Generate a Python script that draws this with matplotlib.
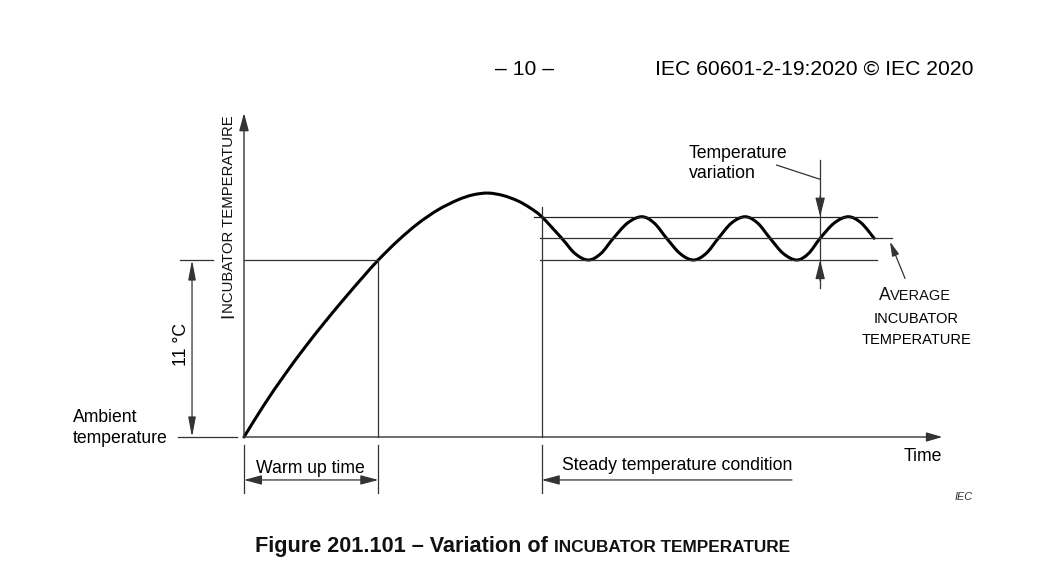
import numpy as np
import matplotlib
matplotlib.use("Agg")
import matplotlib.pyplot as plt
from matplotlib.path import Path
from matplotlib.patches import PathPatch

plt.rcParams["font.family"] = ["Liberation Sans", "DejaVu Sans"]

# schematic data: time in arbitrary minutes, temperature in degC above ambient
curve_time = [0.0, 1.49, 2.98, 4.47, 5.96, 7.45, 8.94, 10.0, 11.47, 12.96,
              14.45, 15.93, 17.05, 18.17, 19.29, 20.4, 21.3, 22.17, 23.66,
              24.65, 25.64, 26.57, 27.5, 28.56, 29.62, 30.54, 31.47, 32.47,
              33.46, 34.4, 35.32, 36.3, 37.31, 38.24, 39.17, 40.16, 41.16,
              42.03, 42.9, 43.95, 45.0, 45.96, 46.92]
curve_temp = [0.0, 1.99, 3.81, 5.5, 7.08, 8.58, 10.02, 11.0, 12.21, 13.27,
              14.12, 14.74, 15.05, 15.16, 15.01, 14.67, 14.24, 13.69, 12.35,
              11.4, 11.0, 11.4, 12.35, 13.3, 13.69, 13.3, 12.35, 11.4,
              11.0, 11.4, 12.35, 13.3, 13.69, 13.3, 12.35, 11.4, 11.0,
              11.4, 12.35, 13.3, 13.69, 13.3, 12.35]

warmup_end = 10.0
steady_start = 22.17
rise = 11.0
band_upper = 13.69
band_mean = 12.35
band_lower = 11.0
variation_time = 42.9
time_axis_end = 52.0
temp_axis_end = 20.14

# page geometry (pixels) used to lay out the drawing
W, H, DPI = 1059, 562, 100
X0, Y0 = 244, 437          # origin of the diagram
SX, SY = 13.43, 16.09      # pixels per minute / per degC
LINE = "#333333"
TXT = 12.7


def P(x, y):
    """pixel position on the page -> data coordinates"""
    return (x - X0) / SX, (Y0 - y) / SY


def catmull_rom(xs, ys):
    p = np.column_stack([xs, ys]).astype(float)
    ext = np.vstack([p[0], p, p[-1]])
    verts = [p[0]]
    codes = [Path.MOVETO]
    for i in range(len(p) - 1):
        a, b, c, d = ext[i], ext[i + 1], ext[i + 2], ext[i + 3]
        verts += [b + (c - a) / 6, c - (d - b) / 6, c]
        codes += [Path.CURVE4] * 3
    return Path(verts, codes)


def arrow(start, end, style, hl, hw, lw=0.9, color=LINE):
    ax.annotate("", xy=end, xytext=start,
                arrowprops=dict(arrowstyle=f"{style},head_length={hl},head_width={hw}",
                                mutation_scale=1, lw=lw, color=color,
                                shrinkA=0, shrinkB=0))


def mixed_text(x, y, parts, rotation=0, align="left", weight="normal"):
    # small-caps style text: pieces of different sizes on one baseline
    renderer = fig.canvas.get_renderer()
    widths = []
    for s, size in parts:
        if s == " ":
            widths.append(0.278 * size * DPI / 72)
            continue
        t = ax.text(0, 0, s, fontsize=size, fontweight=weight)
        widths.append(t.get_window_extent(renderer).width)
        t.remove()
    off = -sum(widths) / 2 if align == "center" else 0.0
    for (s, size), w in zip(parts, widths):
        if s.strip():
            pos = P(x, y - off) if rotation == 90 else P(x + off, y)
            ax.text(*pos, s, fontsize=size, fontweight=weight, rotation=rotation,
                    rotation_mode="anchor", ha="left", va="baseline", color="#111111")
        off += w


fig = plt.figure(figsize=(W / DPI, H / DPI), dpi=DPI)
ax = fig.add_axes([0, 0, 1, 1])
ax.set_xlim(-X0 / SX, (W - X0) / SX)
ax.set_ylim(-(H - Y0) / SY, Y0 / SY)
ax.axis("off")

# axes
arrow((0, 0), (0, temp_axis_end), "-|>", 10.8, 2.9, lw=1.0)
arrow((0, 0), (time_axis_end, 0), "-|>", 9.6, 2.8, lw=1.0)

# ambient and 11 degC reference lines
ax.plot([-4.9, -0.5], [0, 0], color=LINE, lw=0.9)
ax.plot([-4.77, -2.31], [rise, rise], color=LINE, lw=0.9)
ax.plot([0, warmup_end], [rise, rise], color=LINE, lw=0.9)
arrow((-3.87, 0), (-3.87, rise), "<|-|>", 12.0, 2.3)

# warm up / steady markers
ax.plot([warmup_end, warmup_end], [0, rise], color=LINE, lw=0.9)
ax.plot([steady_start, steady_start], [0, 14.3], color=LINE, lw=0.9)
for t in (0, warmup_end, steady_start):
    ax.plot([t, t], [-0.5, -3.48], color=LINE, lw=0.9)
arrow((0, -2.67), (warmup_end, -2.67), "<|-|>", 10.8, 2.9)
arrow((40.8, -2.67), (steady_start, -2.67), "-|>", 10.8, 2.9)

# band lines
ax.plot([21.6, 47.13], [band_upper, band_upper], color="#222222", lw=0.9)
ax.plot([22.05, 48.25], [band_mean, band_mean], color=LINE, lw=0.9)
ax.plot([22.05, 47.13], [band_lower, band_lower], color=LINE, lw=0.9)

# temperature variation dimension
ax.plot([variation_time, variation_time], [9.26, 17.22], color=LINE, lw=0.9)
arrow((variation_time, band_upper + 1.3), (variation_time, band_upper), "-|>", 11.5, 2.9)
arrow((variation_time, band_lower - 1.3), (variation_time, band_lower), "-|>", 11.5, 2.9)
ax.plot([39.66, 42.88], [16.9, 16.02], color=LINE, lw=0.9)

# average temperature leader
arrow((49.22, 9.86), (48.1, 12.14), "-|>", 8.6, 2.2)

# the incubator temperature curve
ax.add_patch(PathPatch(catmull_rom(curve_time, curve_temp), fill=False,
                       lw=2.2, edgecolor="black", capstyle="round"))

# texts
ax.text(*P(524.5, 75), "\u2013 10 \u2013", fontsize=15.2, ha="center", va="baseline")
ax.text(*P(655, 75), "IEC 60601-2-19:2020 \u00a9 IEC 2020", fontsize=15.2,
        ha="left", va="baseline")

mixed_text(233.3, 318, [("I", 13.5), ("NCUBATOR TEMPERATURE", 10.7)], rotation=90)
ax.text(*P(181, 345), "11 \u00b0C", fontsize=TXT, rotation=90, ha="center", va="center")
ax.text(*P(73, 421.7), "Ambient", fontsize=TXT, ha="left", va="baseline")
ax.text(*P(73, 443.3), "temperature", fontsize=TXT, ha="left", va="baseline")
ax.text(*P(310, 472.7), "Warm up time", fontsize=TXT, ha="center", va="baseline")
ax.text(*P(677.5, 470), "Steady temperature condition", fontsize=TXT,
        ha="center", va="baseline")
ax.text(*P(922.5, 461), "Time", fontsize=TXT, ha="center", va="baseline")
ax.text(*P(973, 499.5), "IEC", fontsize=7.8, style="italic", ha="right",
        va="baseline", color="#333333")
ax.text(*P(689, 158.3), "Temperature", fontsize=TXT, ha="left", va="baseline")
ax.text(*P(689, 178.5), "variation", fontsize=TXT, ha="left", va="baseline")

mixed_text(915, 300, [("A", 12.7), ("VERAGE", 10.5)], align="center")
ax.text(*P(916, 323), "INCUBATOR", fontsize=10.5, ha="center", va="baseline")
ax.text(*P(916, 344), "TEMPERATURE", fontsize=10.5, ha="center", va="baseline")

mixed_text(255, 552, [("Figure 201.101 \u2013 Variation of", 15.6), (" ", 15.6),
                      ("INCUBATOR TEMPERATURE", 12.45)], weight="bold")

fig.savefig("out.png", dpi=DPI, facecolor="white")
